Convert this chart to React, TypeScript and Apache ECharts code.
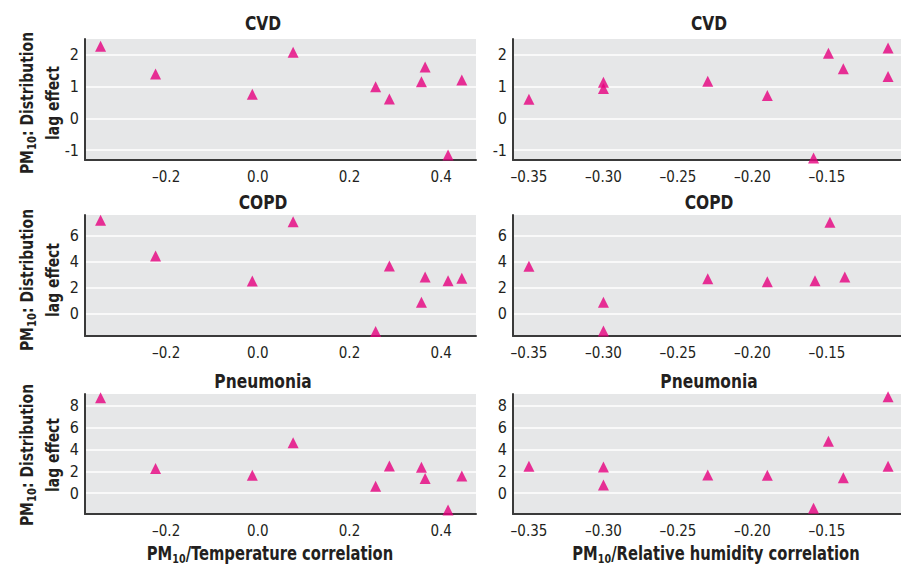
import React, { useEffect, useRef } from "react";
import * as echarts from "echarts";

// ---- data ----
const panelTitles = ["CVD", "COPD", "Pneumonia"];
const tempCorr = [-0.343, -0.223, -0.012, 0.077, 0.257, 0.287, 0.357, 0.365, 0.415, 0.445];
const cvdTemp = [2.27, 1.4, 0.76, 2.08, 1.0, 0.61, 1.15, 1.62, -1.15, 1.21];
const copdTemp = [7.15, 4.41, 2.48, 7.05, -1.41, 3.64, 0.85, 2.79, 2.51, 2.69];
const pneuTemp = [8.69, 2.24, 1.64, 4.6, 0.64, 2.48, 2.36, 1.33, -1.52, 1.57];

const humCorrCvd = [-0.35, -0.3, -0.3, -0.23, -0.19, -0.159, -0.149, -0.139, -0.109, -0.109];
const cvdHum = [0.6, 1.14, 0.94, 1.17, 0.72, -1.25, 2.05, 1.56, 2.22, 1.32];
const humCorrCopd = [-0.35, -0.3, -0.3, -0.23, -0.19, -0.158, -0.148, -0.138];
const copdHum = [3.62, 0.85, -1.36, 2.66, 2.43, 2.51, 7.0, 2.79];
const humCorrPneu = [-0.35, -0.3, -0.3, -0.23, -0.19, -0.159, -0.149, -0.139, -0.109, -0.109];
const pneuHum = [2.45, 2.39, 0.75, 1.66, 1.64, -1.36, 4.73, 1.42, 8.78, 2.45];

const xRangeTemp = [-0.377, 0.476];
const xRangeHum = [-0.3607, -0.1003];
const yRanges = [
  [-1.31, 2.5],
  [-1.75, 7.56],
  [-1.89, 9.03],
];
const ySplits = [3, 4, 5];
const xTitles = ["Temperature", "Relative humidity"];

const FONT = "'Liberation Sans Narrow', 'DejaVu Sans Condensed', 'Roboto', sans-serif";
const MAGENTA = "#e6007e";
const INK = "#231f20";

export default function App() {
  const ref = useRef<HTMLDivElement>(null);
  useEffect(() => {
    if (!ref.current) return;
    const chart = echarts.init(ref.current, undefined, { renderer: "svg" });

    const rowTops = [39, 215, 394];
    const rowHeights = [121, 121, 120];
    const colLefts = [85, 513];
    const colWidths = [391, 388];

    const leftPairs = [
      [tempCorr, cvdTemp],
      [tempCorr, copdTemp],
      [tempCorr, pneuTemp],
    ];
    const rightPairs = [
      [humCorrCvd, cvdHum],
      [humCorrCopd, copdHum],
      [humCorrPneu, pneuHum],
    ];

    const grids: any[] = [];
    const xAxes: any[] = [];
    const yAxes: any[] = [];
    const series: any[] = [];
    let idx = 0;
    for (let r = 0; r < 3; r++) {
      for (let c = 0; c < 2; c++) {
        grids.push({
          left: colLefts[c],
          top: rowTops[r],
          width: colWidths[c],
          height: rowHeights[r],
          show: true,
          backgroundColor: "#e6e7e8",
          borderWidth: 0,
        });
        const xr = c === 0 ? xRangeTemp : xRangeHum;
        xAxes.push({
          type: "value",
          gridIndex: idx,
          min: xr[0],
          max: xr[1],
          splitNumber: c === 0 ? 4 : 5,
          axisLine: { show: true, onZero: false, lineStyle: { color: "#3a3a3a", width: 2 } },
          axisTick: { show: false },
          splitLine: { show: false },
          axisLabel: {
            showMinLabel: false,
            showMaxLabel: false,
            margin: 9,
            fontFamily: FONT,
            fontSize: 15,
            color: INK,
            formatter: (v: number) => {
              const s = c === 0 ? v.toFixed(1) : v.toFixed(2);
              return s.replace("-", "\u2013");
            },
          },
        });
        yAxes.push({
          type: "value",
          gridIndex: idx,
          min: yRanges[r][0],
          max: yRanges[r][1],
          splitNumber: ySplits[r],
          axisLine: { show: true, onZero: false, lineStyle: { color: "#3a3a3a", width: 2 } },
          axisTick: { show: false },
          splitLine: {
            show: true,
            showMinLine: false,
            showMaxLine: false,
            lineStyle: { color: "#ffffff", width: 1.5 },
          },
          axisLabel: {
            showMinLabel: false,
            showMaxLabel: false,
            margin: 6,
            fontFamily: FONT,
            fontSize: 16,
            color: INK,
            formatter: (v: number) => String(Math.round(v)),
          },
        });
        const pair = c === 0 ? leftPairs[r] : rightPairs[r];
        series.push({
          type: "scatter",
          xAxisIndex: idx,
          yAxisIndex: idx,
          symbol: "triangle",
          symbolSize: 11,
          itemStyle: { color: MAGENTA },
          data: pair[0].map((x, i) => [x, pair[1][i]]),
          z: 5,
        });
        idx++;
      }
    }

    const titleX = [263, 709];
    const titleY = [23, 202, 381];
    const graphic: any[] = [];
    for (let r = 0; r < 3; r++) {
      for (let c = 0; c < 2; c++) {
        graphic.push({
          type: "text",
          x: titleX[c],
          y: titleY[r],
          scaleX: 0.86,
          style: {
            text: panelTitles[r],
            font: `bold 20px ${FONT}`,
            fill: INK,
            align: "center",
            verticalAlign: "middle",
          },
        });
      }
    }
    const yNameCenters = [103, 280, 455];
    const sub = {
      fontFamily: FONT,
      fontWeight: "bold",
      fontSize: 13,
      lineHeight: 14,
      verticalAlign: "bottom",
      fill: INK,
    };
    for (let r = 0; r < 3; r++) {
      graphic.push({
        type: "text",
        x: 27,
        y: yNameCenters[r],
        rotation: Math.PI / 2,
        scaleX: 0.86,
        style: {
          text: "{b|PM}{s|10}{b|: Distribution}",
          align: "center",
          verticalAlign: "middle",
          fill: INK,
          rich: {
            b: { fontFamily: FONT, fontWeight: "bold", fontSize: 18, lineHeight: 22, fill: INK },
            s: sub,
          },
        },
      });
      graphic.push({
        type: "text",
        x: 53,
        y: yNameCenters[r],
        rotation: Math.PI / 2,
        scaleX: 0.86,
        style: {
          text: "lag effect",
          font: `bold 18px ${FONT}`,
          fill: INK,
          align: "center",
          verticalAlign: "middle",
        },
      });
    }
    const xNameX = [270, 716];
    for (let c = 0; c < 2; c++) {
      graphic.push({
        type: "text",
        x: xNameX[c],
        y: 553,
        scaleX: 0.82,
        style: {
          text: `{b|PM}{s|10}{b|/${xTitles[c]} correlation}`,
          align: "center",
          verticalAlign: "middle",
          fill: INK,
          rich: {
            b: { fontFamily: FONT, fontWeight: "bold", fontSize: 20, lineHeight: 24, fill: INK },
            s: sub,
          },
        },
      });
    }

    chart.setOption({
      animation: false,
      backgroundColor: "#ffffff",
      grid: grids,
      xAxis: xAxes,
      yAxis: yAxes,
      series,
      graphic,
    });
    return () => chart.dispose();
  }, []);
  return (
    <div
      ref={ref}
      style={{ position: "fixed", left: 0, top: 0, width: 901, height: 565 }}
    />
  );
}
